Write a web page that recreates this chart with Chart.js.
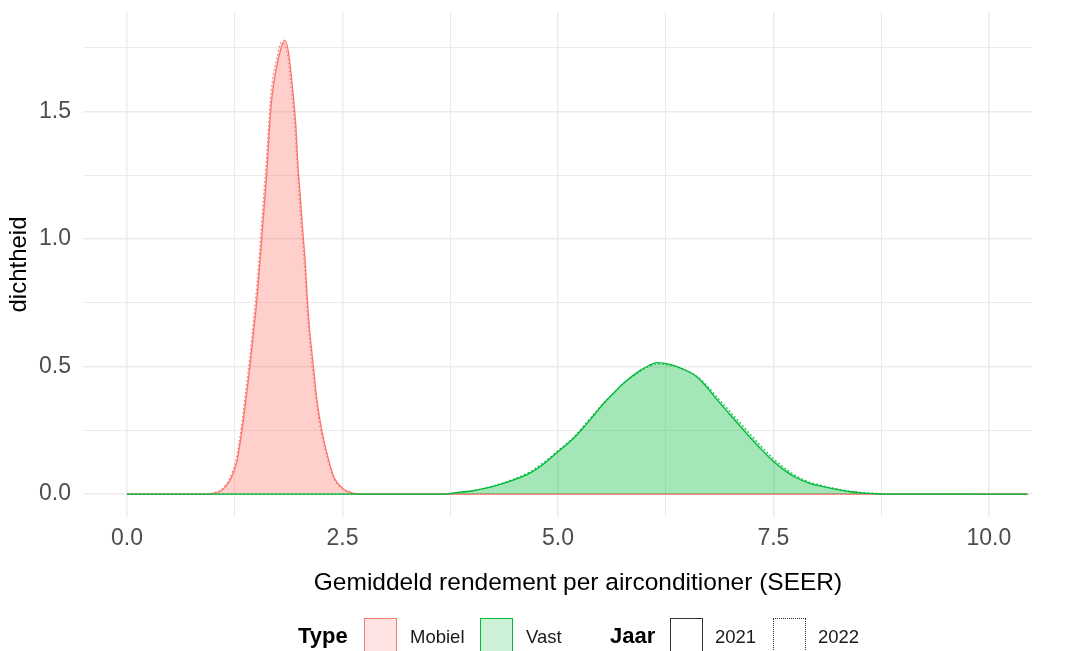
<!DOCTYPE html>
<html>
<head>
<meta charset="utf-8">
<script src="https://cdn.jsdelivr.net/npm/chart.js@4.4.1/dist/chart.umd.min.js"></script>
<style>
  body { margin: 0; background: #fff; font-family: "Liberation Sans", Arial, sans-serif; }
  #wrap { position: relative; width: 1070px; height: 651px; overflow: hidden; }
  .lg { position: absolute; white-space: nowrap; line-height: 1; }
  .lg-title { font-weight: bold; font-size: 22px; color: #000; top: 625px; }
  .lg-text { font-size: 18.5px; color: #1a1a1a; top: 628px; }
  .key { position: absolute; top: 618px; width: 33px; height: 40px; box-sizing: border-box; }
  #xtitle { position: absolute; left: 0; width: 1156px; top: 567px; text-align: center; font-size: 24.5px; color: #000; line-height: 1.2; }
</style>
</head>
<body>
<div id="wrap">
  <canvas id="myChart"></canvas>
  <div id="xtitle">Gemiddeld rendement per airconditioner (SEER)</div>
  <span class="lg lg-title" style="left:298px">Type</span>
  <div class="key" style="left:364px; background: rgba(248,118,109,0.2); border: 1.5px solid #F8766D"></div>
  <span class="lg lg-text" style="left:410px">Mobiel</span>
  <div class="key" style="left:480px; background: rgba(0,186,56,0.2); border: 1.5px solid #00BA38"></div>
  <span class="lg lg-text" style="left:526px">Vast</span>
  <span class="lg lg-title" style="left:610px">Jaar</span>
  <div class="key" style="left:670px; border: 1.5px solid #333"></div>
  <span class="lg lg-text" style="left:715px">2021</span>
  <div class="key" style="left:773px; border: 1.5px dotted #333"></div>
  <span class="lg lg-text" style="left:818px">2022</span>
</div>
<script>
// x grid + density values
const mobielX = [0, 0.95, 1.00, 1.10, 1.19, 1.27, 1.33, 1.38, 1.43, 1.47, 1.51, 1.54, 1.57, 1.60, 1.63, 1.65, 1.68, 1.74, 1.79, 1.83,
  1.87, 1.89, 1.93, 1.96, 1.98, 2.01, 2.04, 2.07, 2.09, 2.12, 2.16, 2.20, 2.26, 2.35, 2.41, 2.51, 2.62, 2.70, 10.45];
const mobiel2021 = [0, 0, 0.003, 0.015, 0.05, 0.12, 0.24, 0.37, 0.51, 0.64, 0.77, 0.90, 1.03, 1.16, 1.30, 1.42, 1.55, 1.68, 1.75, 1.78,
  1.74, 1.69, 1.56, 1.44, 1.31, 1.17, 1.03, 0.90, 0.78, 0.64, 0.51, 0.38, 0.25, 0.12, 0.06, 0.02, 0.004, 0, 0];
const mobiel2022 = [0, 0, 0.004, 0.018, 0.06, 0.14, 0.27, 0.41, 0.55, 0.69, 0.83, 0.96, 1.10, 1.23, 1.37, 1.48, 1.60, 1.71, 1.77, 1.76,
  1.71, 1.65, 1.51, 1.38, 1.26, 1.11, 0.98, 0.85, 0.73, 0.60, 0.47, 0.35, 0.23, 0.11, 0.055, 0.018, 0.003, 0, 0];

const vastX = [0, 3.70, 3.80, 4.00, 4.15, 4.30, 4.48, 4.67, 4.85, 5.00, 5.18, 5.30, 5.42, 5.53, 5.65, 5.76, 5.95, 6.05, 6.15,
  6.30, 6.45, 6.61, 6.75, 6.84, 7.00, 7.19, 7.35, 7.50, 7.65, 7.77, 7.92, 8.08, 8.25, 8.39, 8.55, 8.66, 8.75, 10.45];
const vast2021 = [0, 0, 0.005, 0.012, 0.022, 0.035, 0.055, 0.081, 0.122, 0.166, 0.218, 0.262, 0.31, 0.355, 0.397, 0.434, 0.484, 0.503, 0.515,
  0.508, 0.49, 0.46, 0.41, 0.372, 0.31, 0.237, 0.178, 0.128, 0.088, 0.063, 0.042, 0.029, 0.017, 0.009, 0.004, 0.002, 0, 0];
const vast2022 = [0, 0, 0.004, 0.012, 0.023, 0.037, 0.058, 0.086, 0.128, 0.17, 0.222, 0.268, 0.315, 0.358, 0.398, 0.433, 0.48, 0.499, 0.51,
  0.505, 0.49, 0.462, 0.418, 0.382, 0.322, 0.25, 0.19, 0.138, 0.097, 0.07, 0.047, 0.032, 0.019, 0.011, 0.005, 0.003, 0.001, 0];

const xTicks = [0, 1.25, 2.5, 3.75, 5, 6.25, 7.5, 8.75, 10];
const xLabels = [0, 2.5, 5, 7.5, 10];
const yTicks = [0, 0.25, 0.5, 0.75, 1, 1.25, 1.5, 1.75];
const yLabels = [0, 0.5, 1, 1.5];

function pts(xs, ys) {
  return xs.map((x, i) => ({ x: x, y: ys[i] }));
}

function series(label, xs, ys, color, fill, dotted, order) {
  return {
    label: label,
    data: pts(xs, ys),
    borderColor: color,
    backgroundColor: fill,
    borderWidth: 1.3,
    borderDash: dotted ? [1.5, 2.5] : [],
    fill: 'origin',
    pointRadius: 0,
    cubicInterpolationMode: 'monotone',
    order: order
  };
}

const red = '#F8766D', redFill = 'rgba(248,118,109,0.2)';
const green = '#00BA38', greenFill = 'rgba(0,186,56,0.2)';

var ctx = document.getElementById('myChart').getContext('2d');
var chart1 = new Chart(ctx, {
  type: 'line',
  data: {
    datasets: [
      series('Mobiel 2021', mobielX, mobiel2021, red, redFill, false, 4),
      series('Mobiel 2022', mobielX, mobiel2022, red, redFill, true, 3),
      series('Vast 2021', vastX, vast2021, green, greenFill, false, 2),
      series('Vast 2022', vastX, vast2022, green, greenFill, true, 1)
    ]
  },
  options: {
    responsive: true,
    maintainAspectRatio: false,
    animation: false,
    layout: { padding: { left: 0, top: 12, right: 38, bottom: 55 } },
    plugins: { legend: { display: false }, tooltip: { enabled: false } },
    scales: {
      x: {
        type: 'linear',
        min: -0.51,
        max: 10.5,
        afterBuildTicks: s => { s.ticks = xTicks.map(v => ({ value: v })); },
        afterFit: s => { s.height = 79; },
        border: { display: false },
        grid: {
          color: '#EBEBEB',
          drawTicks: false,
          lineWidth: c => xLabels.includes(c.tick.value) ? 1.5 : 1
        },
        ticks: {
          autoSkip: false,
          maxRotation: 0,
          padding: 8,
          color: '#4D4D4D',
          font: { family: 'Liberation Sans', size: 23 },
          callback: v => xLabels.includes(v) ? v.toFixed(1) : ''
        }
      },
      y: {
        min: -0.09,
        max: 1.89,
        afterBuildTicks: s => { s.ticks = yTicks.map(v => ({ value: v })); },
        afterFit: s => { s.width = 83; s.paddingTop = 0; s.paddingBottom = 0; },
        border: { display: false },
        grid: {
          color: '#EBEBEB',
          drawTicks: false,
          lineWidth: c => yLabels.includes(c.tick.value) ? 1.5 : 1
        },
        ticks: {
          padding: 12,
          color: '#4D4D4D',
          font: { family: 'Liberation Sans', size: 23 },
          callback: v => yLabels.includes(v) ? v.toFixed(1) : ''
        },
        title: {
          display: true,
          text: 'dichtheid',
          color: '#000',
          font: { family: 'Liberation Sans', size: 24 },
          padding: { top: 5, bottom: 0 }
        }
      }
    }
  }
});
</script>
</body>
</html>
